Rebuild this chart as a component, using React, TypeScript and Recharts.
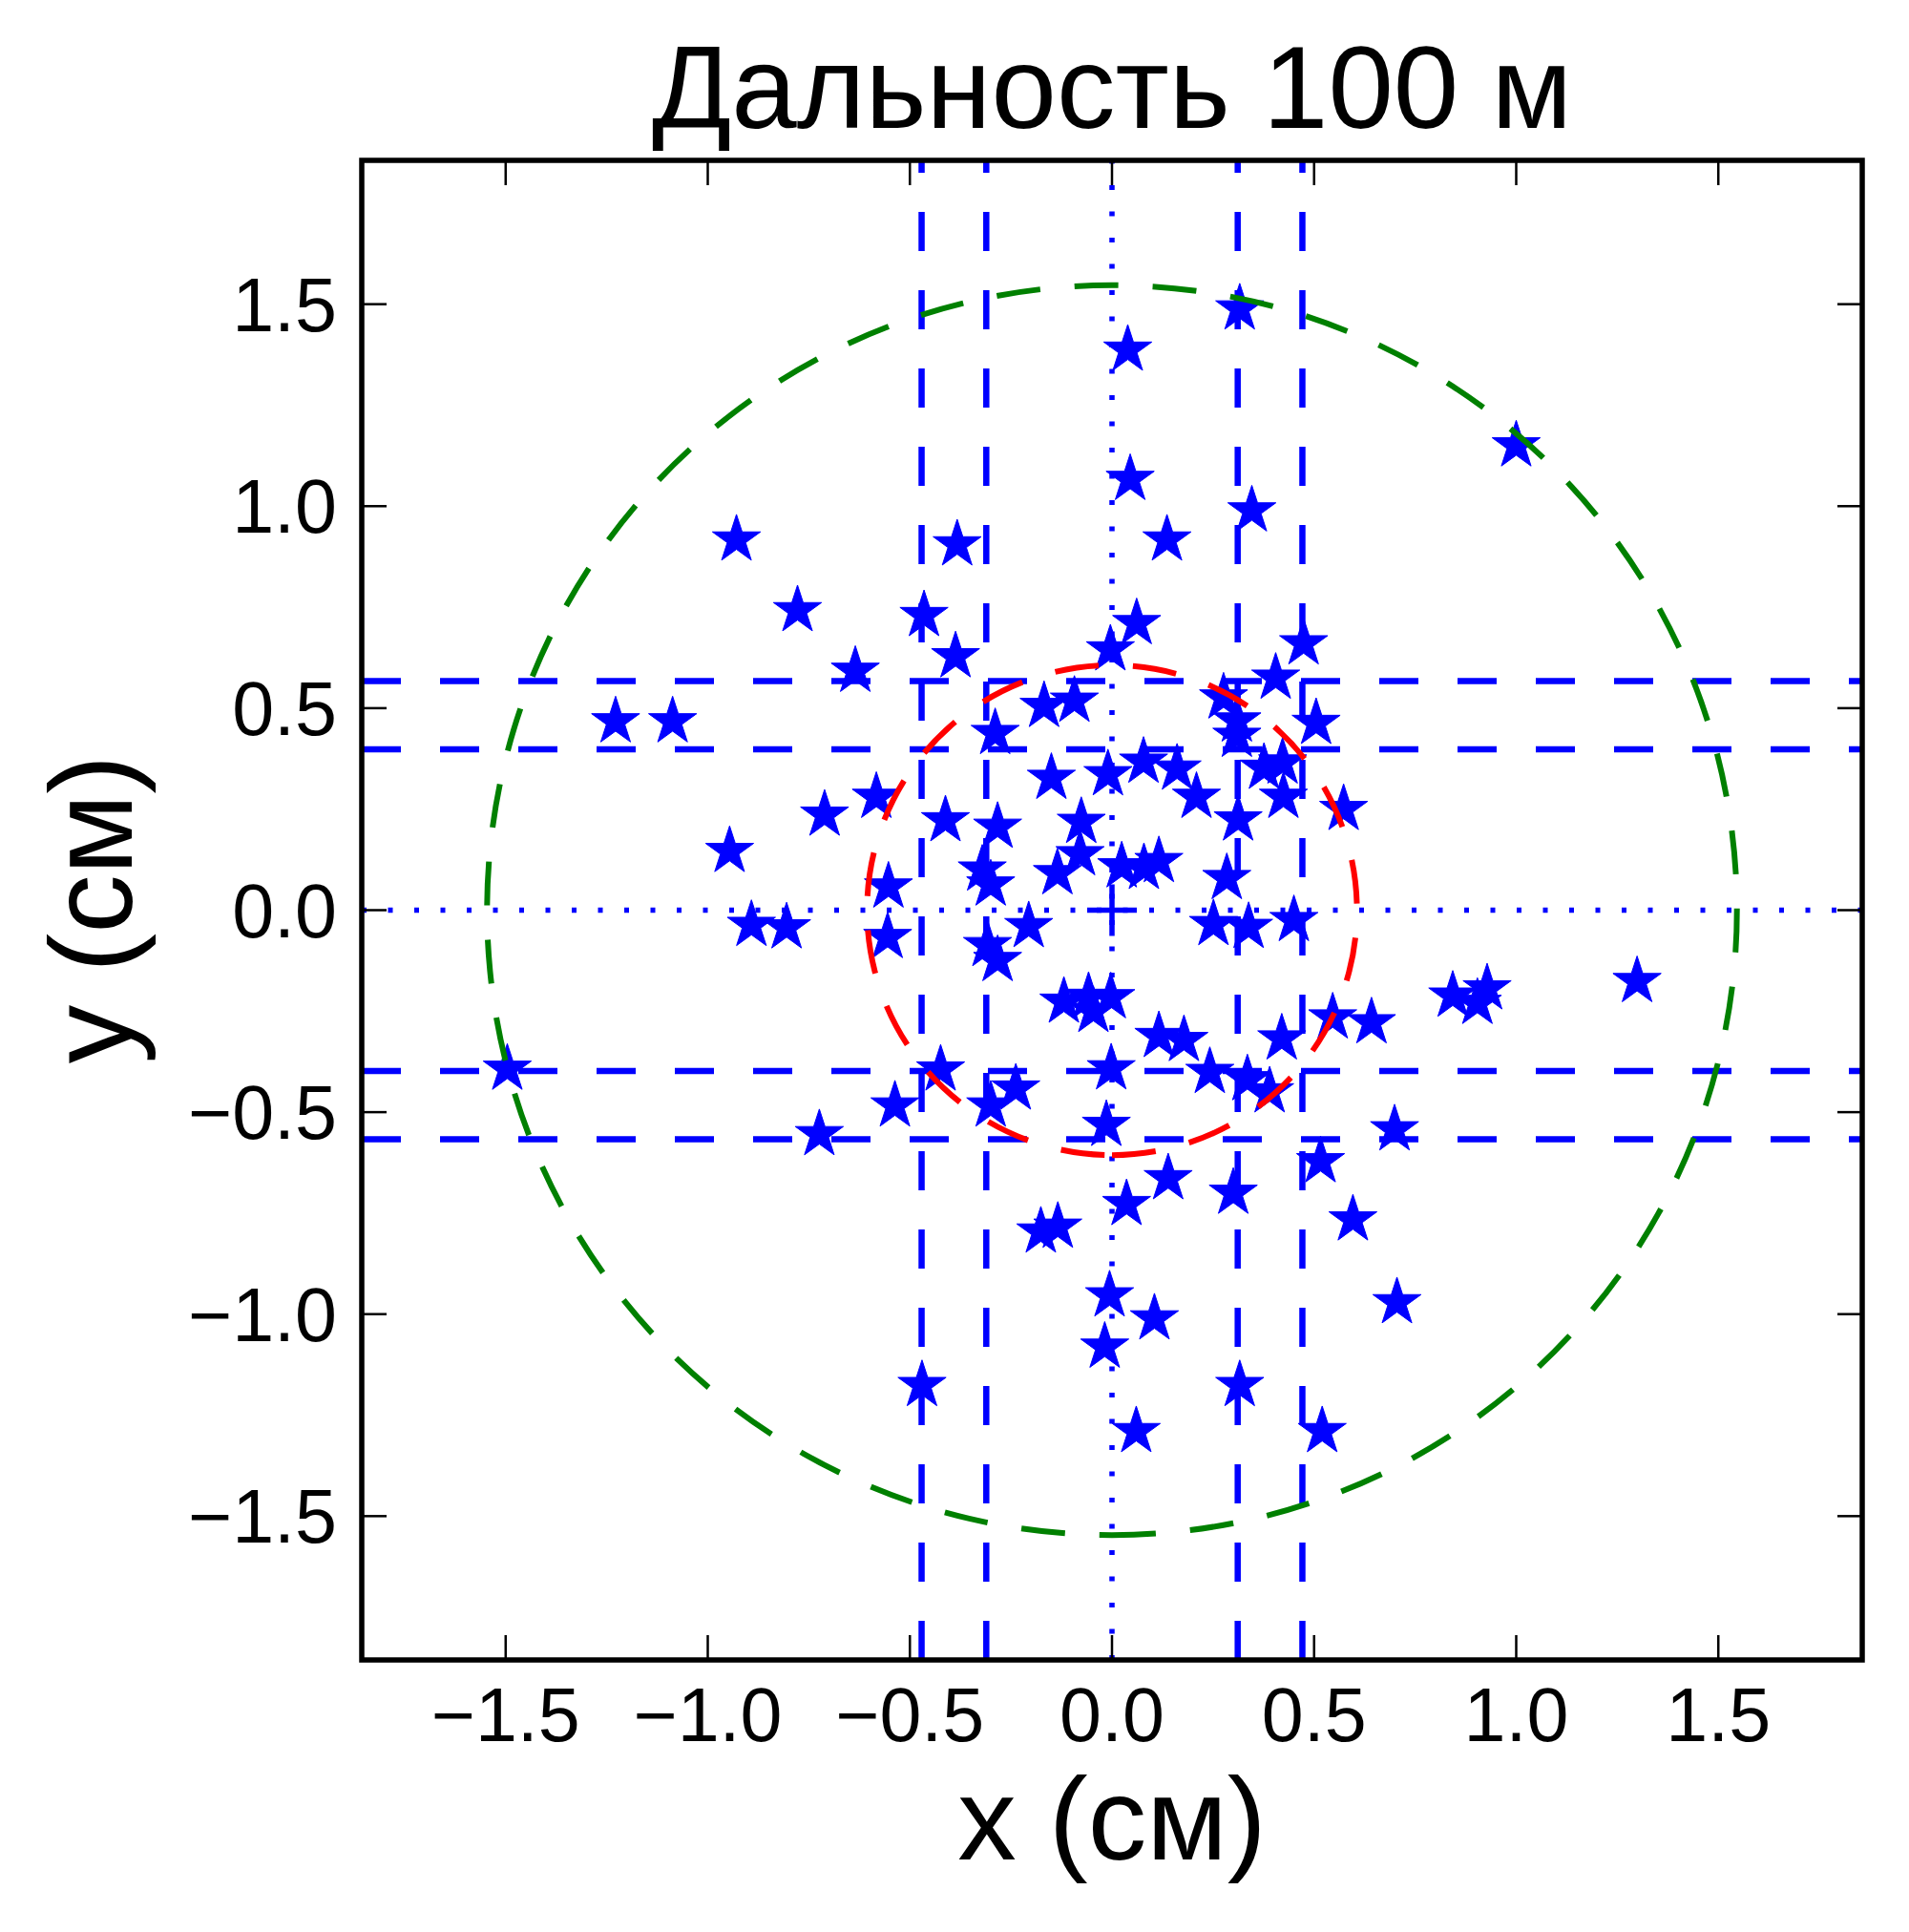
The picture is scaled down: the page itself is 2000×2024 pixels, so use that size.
import { ScatterChart, Scatter, XAxis, YAxis, ReferenceLine, Label } from 'recharts';

// shot positions, cm
const SHOT_X = [
  -0.929, -0.383, -0.778, -0.465, -0.387, -0.635, -0.004, -1.228, -1.087, -0.289,
  -0.168, -0.093, -0.150, -0.010, -0.583, -0.711, -0.412, -0.283, -0.076, -0.079,
  -0.135, -0.946, -0.321, -0.300, -0.553, 0.024, 0.079, 0.116, 0.284, -0.892,
  -0.805, -0.555, -0.308, -0.283, -0.206, -0.119, -0.058, -0.046, -0.003, -1.496,
  -0.424, -0.537, -0.724, -0.300, -0.238, -0.002, -0.014, -0.176, -0.134, -0.006,
  -0.018, -0.470, 0.036, 0.251, 0.338, 0.450, 0.116, 0.178, 0.420, 0.546,
  0.642, 0.843, 0.904, 0.928, 1.299, 0.242, 0.335, 0.390, 0.699, 0.516,
  0.139, 0.300, 0.596, 0.705, 0.105, 0.316, 0.060, 0.520, 0.316, 0.039,
  1.000, 0.045, 0.346, 0.136, 0.061, 0.474, 0.405, 0.276, 0.309, 0.309,
  0.505, 0.078, 0.161, 0.209, 0.376, 0.422, 0.424, 0.573, 0.312,
];
const SHOT_Y = [
  0.917, 0.905, 0.742, 0.730, 0.628, 0.592, 0.645, 0.467, 0.467, 0.438,
  0.505, 0.518, 0.327, 0.336, 0.280, 0.236, 0.222, 0.206, 0.218, 0.138,
  0.091, 0.146, 0.100, 0.063, 0.058, 0.108, 0.104, 0.121, 0.079, -0.037,
  -0.043, -0.067, -0.087, -0.124, -0.040, -0.227, -0.215, -0.250, -0.216, -0.393,
  -0.395, -0.484, -0.555, -0.484, -0.442, -0.392, -0.532, -0.796, -0.784, -0.954,
  -1.081, -1.176, -0.728, -0.035, -0.042, -0.025, -0.312, -0.322, -0.318, -0.266,
  -0.278, -0.212, -0.230, -0.194, -0.176, -0.401, -0.419, -0.449, -0.543, -0.622,
  -0.664, -0.700, -0.766, -0.971, -1.011, -1.176, -1.290, -1.290, 1.489, 1.387,
  1.150, 1.067, 0.989, 0.917, 0.710, 0.660, 0.575, 0.526, 0.469, 0.431,
  0.463, 0.367, 0.350, 0.280, 0.352, 0.365, 0.280, 0.250, 0.224,
];

const X_LINES = [-0.471, -0.311, 0.311, 0.471];
const Y_LINES = [-0.567, -0.398, 0.398, 0.567];
const CENTER = [{ x: 0, y: 0 }];
const RING_RADII = [1.546, 0.606];
const RING_COLORS = ['#008000', '#ff0000'];
const TICKS = [-1.5, -1, -0.5, 0, 0.5, 1, 1.5];
const LIM = 1.856;

const W = 2000;
const H = 2024;
const PLOT_LEFT = 379;
const PLOT_TOP = 168;
const PLOT_W = 1572;
const PLOT_H = 1571;
const AXIS_SIZE = 100;
const TICK_LEN = 26;
const FONT = '"Liberation Sans", Arial, sans-serif';
const BLUE = '#0000ff';

const shots = SHOT_X.map((x, i) => ({ x, y: SHOT_Y[i] }));
const rings = RING_RADII.map((r, i) => ({ x: 0, y: 0, r, color: RING_COLORS[i] }));

const fmt = (v: number) => v.toFixed(1).replace('-', '\u2212');

function Star(props: any) {
  const { cx, cy } = props;
  const R = 26.5;
  const r = R * 0.382;
  const pts: string[] = [];
  for (let k = 0; k < 10; k++) {
    const a = (-90 + k * 36) * Math.PI / 180;
    const rad = k % 2 === 0 ? R : r;
    pts.push(`${cx + rad * Math.cos(a)},${cy + rad * Math.sin(a)}`);
  }
  return <polygon points={pts.join(' ')} fill={BLUE} stroke={BLUE} strokeWidth={1} />;
}

function Ring(props: any) {
  const { cx, cy, payload } = props;
  const r = payload.r * PLOT_W / (2 * LIM);
  // start at the bottom and go anticlockwise, like matplotlib's circle path
  const d = `M ${cx} ${cy + r} A ${r} ${r} 0 0 0 ${cx} ${cy - r} A ${r} ${r} 0 0 0 ${cx} ${cy + r}`;
  return <path d={d} fill="none" stroke={payload.color} strokeWidth={6} strokeDasharray="46 36" />;
}

function Plus(props: any) {
  const { cx, cy } = props;
  return (
    <g stroke={BLUE} strokeWidth={5.5}>
      <line x1={cx - 26} y1={cy} x2={cx + 26} y2={cy} />
      <line x1={cx} y1={cy - 27} x2={cx} y2={cy + 27} />
    </g>
  );
}

function XTick(props: any) {
  const { x, y, payload } = props;
  return (
    <g>
      <line x1={x} y1={y} x2={x} y2={y - TICK_LEN} stroke="#000" strokeWidth={2.5} />
      <line x1={x} y1={y - PLOT_H} x2={x} y2={y - PLOT_H + TICK_LEN} stroke="#000" strokeWidth={2.5} />
      <text x={x} y={y + 85} textAnchor="middle" fontSize={79} fontFamily={FONT} fill="#000">
        {fmt(payload.value)}
      </text>
    </g>
  );
}

function YTick(props: any) {
  const { x, y, payload } = props;
  return (
    <g>
      <line x1={x} y1={y} x2={x + TICK_LEN} y2={y} stroke="#000" strokeWidth={2.5} />
      <line x1={x + PLOT_W} y1={y} x2={x + PLOT_W - TICK_LEN} y2={y} stroke="#000" strokeWidth={2.5} />
      <text x={x - 26} y={y + 28} textAnchor="end" fontSize={79} fontFamily={FONT} fill="#000">
        {fmt(payload.value)}
      </text>
    </g>
  );
}

export default function App() {
  return (
    <div style={{ position: 'absolute', left: 0, top: 0, width: W, height: H, background: '#fff' }}>
      <ScatterChart
        width={W}
        height={H}
        margin={{
          top: PLOT_TOP,
          left: PLOT_LEFT - AXIS_SIZE,
          right: W - PLOT_LEFT - PLOT_W,
          bottom: H - PLOT_TOP - PLOT_H - AXIS_SIZE,
        }}
        style={{ position: 'absolute', left: 0, top: 0 }}
      >
        <XAxis
          type="number"
          dataKey="x"
          domain={[-LIM, LIM]}
          allowDataOverflow
          ticks={TICKS}
          interval={0}
          height={AXIS_SIZE}
          tickSize={0}
          tickMargin={0}
          tickLine={false}
          axisLine={false}
          tick={<XTick />}
        >
          <Label
            content={({ viewBox }: any) => (
              <text
                x={viewBox.x + viewBox.width / 2}
                y={viewBox.y + 209}
                textAnchor="middle"
                fontSize={123}
                fontFamily={FONT}
                fill="#000"
              >
                x (см)
              </text>
            )}
          />
        </XAxis>
        <YAxis
          type="number"
          dataKey="y"
          domain={[-LIM, LIM]}
          allowDataOverflow
          ticks={TICKS}
          interval={0}
          width={AXIS_SIZE}
          tickSize={0}
          tickMargin={0}
          tickLine={false}
          axisLine={false}
          tick={<YTick />}
        >
          <Label
            content={({ viewBox }: any) => {
              const lx = viewBox.x + viewBox.width - 241;
              const ly = viewBox.y + viewBox.height / 2 - 1;
              return (
                <text
                  x={lx}
                  y={ly}
                  transform={`rotate(-90, ${lx}, ${ly})`}
                  textAnchor="middle"
                  fontSize={123}
                  fontFamily={FONT}
                  fill="#000"
                >
                  y (см)
                </text>
              );
            }}
          />
        </YAxis>
        <Scatter data={shots} shape={<Star />} isAnimationActive={false} />
        {X_LINES.map((v) => (
          <ReferenceLine key={`vx${v}`} x={v} stroke={BLUE} strokeWidth={6.5} strokeDasharray="41 41" />
        ))}
        {Y_LINES.map((v) => (
          <ReferenceLine key={`hy${v}`} y={v} stroke={BLUE} strokeWidth={6.5} strokeDasharray="41 41" />
        ))}
        <ReferenceLine x={0} stroke={BLUE} strokeWidth={5.5} strokeDasharray="5 22.5" />
        <ReferenceLine y={0} stroke={BLUE} strokeWidth={5.5} strokeDasharray="5 22.5" />
        <Scatter data={rings} shape={<Ring />} isAnimationActive={false} />
        <Scatter data={CENTER} shape={<Plus />} isAnimationActive={false} />
      </ScatterChart>
      {/* title and axes frame drawn on top */}
      <svg width={W} height={H} style={{ position: 'absolute', left: 0, top: 0, pointerEvents: 'none' }}>
        <text x={PLOT_LEFT + PLOT_W / 2} y={134} textAnchor="middle" fontSize={123} fontFamily={FONT} fill="#000">
          Дальность 100 м
        </text>
        <rect x={PLOT_LEFT} y={PLOT_TOP} width={PLOT_W} height={PLOT_H} fill="none" stroke="#000" strokeWidth={5.5} />
      </svg>
    </div>
  );
}
